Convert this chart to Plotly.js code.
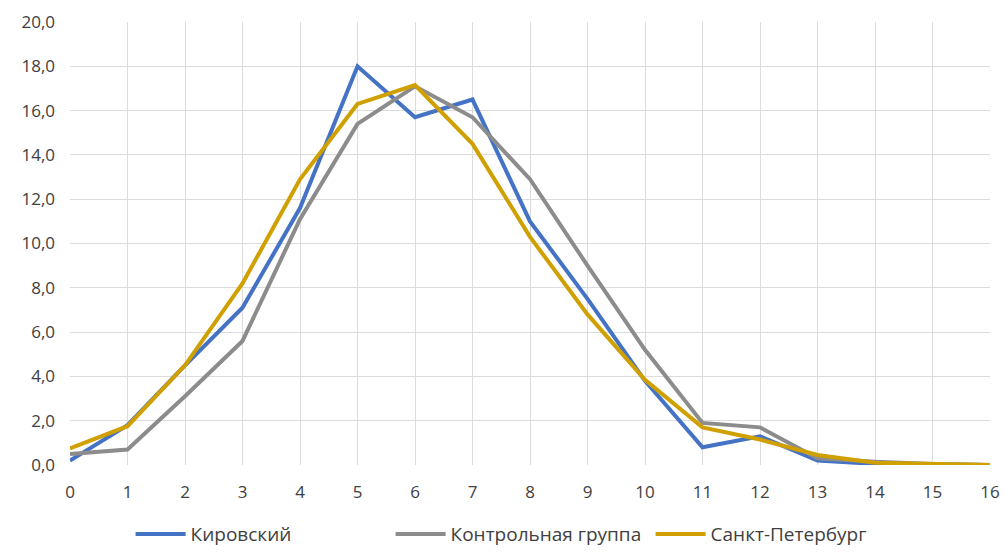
<!DOCTYPE html>
<html>
<head>
<meta charset="utf-8">
<script src="https://cdn.plot.ly/plotly-3.0.1.min.js"></script>
<style>
  html, body { margin: 0; padding: 0; background: #fff; }
  #plot { width: 1005px; height: 556px; }
</style>
</head>
<body>
<div id="plot"></div>
<script>
const xValues = [0, 1, 2, 3, 4, 5, 6, 7, 8, 9, 10, 11, 12, 13, 14, 15, 16];
const kirovsky = [0.2, 1.8, 4.5, 7.1, 11.6, 18.0, 15.7, 16.5, 11.0, 7.5, 3.8, 0.8, 1.3, 0.2, 0.05, 0.02, 0.0];
const control = [0.5, 0.7, 3.1, 5.6, 11.1, 15.4, 17.1, 15.7, 12.9, 9.0, 5.2, 1.9, 1.7, 0.3, 0.15, 0.05, 0.0];
const spb = [0.75, 1.75, 4.5, 8.2, 12.9, 16.3, 17.15, 14.5, 10.3, 6.8, 3.85, 1.7, 1.15, 0.45, 0.1, 0.03, 0.0];
const seriesNames = ['Кировский', 'Контрольная группа', 'Санкт-Петербург'];

const colors = ['#4472C4', '#8C8C8C', '#CFA000'];
const data = [kirovsky, control, spb].map((y, i) => ({
    x: xValues,
    y: y,
    mode: 'lines',
    name: seriesNames[i],
    line: { color: colors[i], width: 4 }
}));

const layout = {
    width: 1005,
    height: 556,
    margin: { l: 70, r: 15, t: 22, b: 91 },
    paper_bgcolor: '#fff',
    plot_bgcolor: '#fff',
    separators: ', ',
    font: { family: 'Open Sans, Liberation Sans, sans-serif', size: 17, color: '#404040' },
    showlegend: true,
    legend: {
        orientation: 'h',
        xref: 'container', yref: 'container',
        x: 0.518, xanchor: 'center',
        y: 0.005, yanchor: 'bottom',
        font: { size: 19, color: '#404040' },
        itemwidth: 50,
        entrywidth: 195
    },
    xaxis: {
        range: [0, 16],
        tickmode: 'linear', tick0: 0, dtick: 1,
        showgrid: true, gridcolor: '#dcdcdc', gridwidth: 1,
        zeroline: false, showline: false,
        ticks: '', ticklabelstandoff: 15
    },
    yaxis: {
        range: [0, 20],
        tickmode: 'linear', tick0: 0, dtick: 2,
        tickformat: '.1f',
        showgrid: true, gridcolor: '#dcdcdc', gridwidth: 1,
        zeroline: false, showline: false,
        ticks: '', ticklabelstandoff: 14
    }
};

Plotly.newPlot('plot', data, layout, { displayModeBar: false, staticPlot: true });
</script>
</body>
</html>
